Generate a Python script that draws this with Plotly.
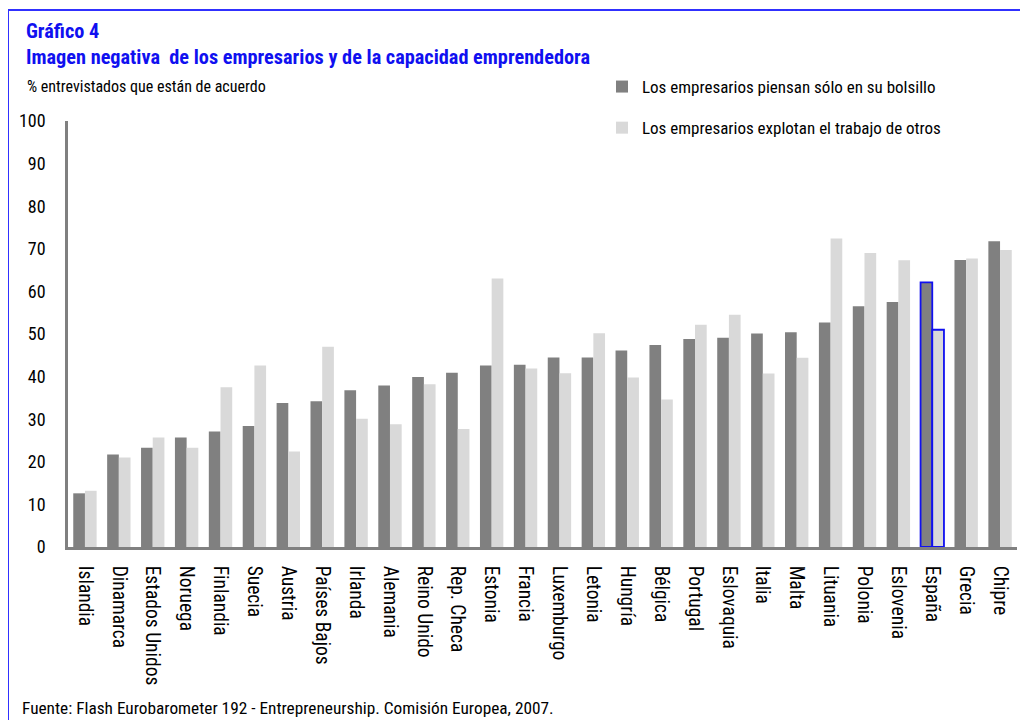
import plotly.graph_objects as go

paises = ["Islandia", "Dinamarca", "Estados Unidos", "Noruega", "Finlandia", "Suecia",
          "Austria", "Países Bajos", "Irlanda", "Alemania", "Reino Unido", "Rep. Checa",
          "Estonia", "Francia", "Luxemburgo", "Letonia", "Hungría", "Bélgica", "Portugal",
          "Eslovaquia", "Italia", "Malta", "Lituania", "Polonia", "Eslovenia", "España",
          "Grecia", "Chipre"]
bolsillo = [12.6, 21.7, 23.3, 25.7, 27.1, 28.4, 33.8, 34.2, 36.8, 37.9, 39.9, 40.9,
            42.6, 42.8, 44.5, 44.5, 46.1, 47.4, 48.8, 49.1, 50.1, 50.4, 52.7, 56.5,
            57.5, 62.1, 67.4, 71.8]
explotan = [13.2, 21.0, 25.7, 23.3, 37.5, 42.6, 22.4, 47.0, 30.1, 28.8, 38.2, 27.7,
            63.0, 41.9, 40.8, 50.2, 39.8, 34.6, 52.2, 54.5, 40.7, 44.4, 72.4, 69.0,
            67.3, 51.0, 67.7, 69.7]
serie1 = "Los empresarios piensan sólo en su bolsillo"
serie2 = "Los empresarios explotan el trabajo de otros"
destacado = "España"
y_ticks = [0, 10, 20, 30, 40, 50, 60, 70, 80, 90, 100]

FONT = "Roboto Condensed, DejaVu Sans Condensed, Liberation Sans Narrow, Arial Narrow, Liberation Sans, sans-serif"
BLUE = "#1010f0"

# page body has an 8px margin: work in page pixels and subtract it
O = 8
W, H = 1028 - O, 720 - O
PL, PR, PT, PB = 68, 1017, 121, 547          # plot area in page pixels
L, R, T, B = PL - O, W - (PR - O), PT - O, H - (PB - O)
PW, PH = PR - PL, PB - PT


def px(x):
    return (x - PL) / PW


def py(y):
    return (PB - y) / PH


line_w = [1.8 if p == destacado else 0 for p in paises]
line_c = [BLUE if p == destacado else "rgba(0,0,0,0)" for p in paises]

fig = go.Figure()
fig.add_trace(go.Bar(x=paises, y=bolsillo, name=serie1, legendgroup="a",
                     marker=dict(color="#808080", line=dict(color=line_c, width=line_w))))
fig.add_trace(go.Bar(x=paises, y=explotan, name=serie2, legendgroup="b",
                     marker=dict(color="#d9d9d9", line=dict(color=line_c, width=line_w))))

fig.update_layout(
    width=W, height=H,
    margin=dict(l=L, r=R, t=T, b=B, pad=0),
    paper_bgcolor="white", plot_bgcolor="white",
    barmode="group", bargap=0.31, bargroupgap=0,
    font=dict(family=FONT, size=17, color="black"),
    showlegend=True,
    legend=dict(x=px(602), y=py(69), xanchor="left", yanchor="top",
                font=dict(family=FONT, size=17, color="black"),
                tracegroupgap=16, itemwidth=30, bgcolor="rgba(0,0,0,0)",
                traceorder="grouped"),
    xaxis=dict(range=[-0.5, len(paises) - 0.5], showline=True, linecolor="#808080",
               linewidth=2.5, tickangle=90, ticks="outside", ticklen=12,
               tickcolor="rgba(0,0,0,0)", showgrid=False, zeroline=False,
               tickfont=dict(family=FONT, size=19.5, color="black")),
    yaxis=dict(range=[0, 100], tickvals=y_ticks, showline=True, linecolor="#808080",
               linewidth=2.5, ticks="outside", ticklen=16, tickcolor="rgba(0,0,0,0)",
               showgrid=False, zeroline=False,
               tickfont=dict(family=FONT, size=18, color="black")),
    shapes=[dict(type="rect", xref="paper", yref="paper",
                 x0=px(8), x1=px(1045), y0=py(740), y1=py(10),
                 line=dict(color="#3030ff", width=2), fillcolor="rgba(0,0,0,0)")],
    annotations=[
        dict(text="<b>Gráfico 4</b>", xref="paper", yref="paper", x=px(24), y=py(31),
             xanchor="left", yanchor="middle", showarrow=False,
             font=dict(family=FONT, size=20.3, color=BLUE)),
        dict(text="<b>Imagen negativa  de los empresarios y de la capacidad emprendedora</b>",
             xref="paper", yref="paper", x=px(24), y=py(57),
             xanchor="left", yanchor="middle", showarrow=False,
             font=dict(family=FONT, size=20.3, color=BLUE)),
        dict(text="% entrevistados que están de acuerdo", xref="paper", yref="paper",
             x=px(25), y=py(87), xanchor="left", yanchor="middle", showarrow=False,
             font=dict(family=FONT, size=16, color="black")),
        dict(text="Fuente: Flash Eurobarometer 192 - Entrepreneurship. Comisión Europea, 2007.",
             xref="paper", yref="paper", x=px(20), y=py(708), xanchor="left",
             yanchor="middle", showarrow=False,
             font=dict(family=FONT, size=17.3, color="black")),
    ],
)

fig.write_html("out.html")
